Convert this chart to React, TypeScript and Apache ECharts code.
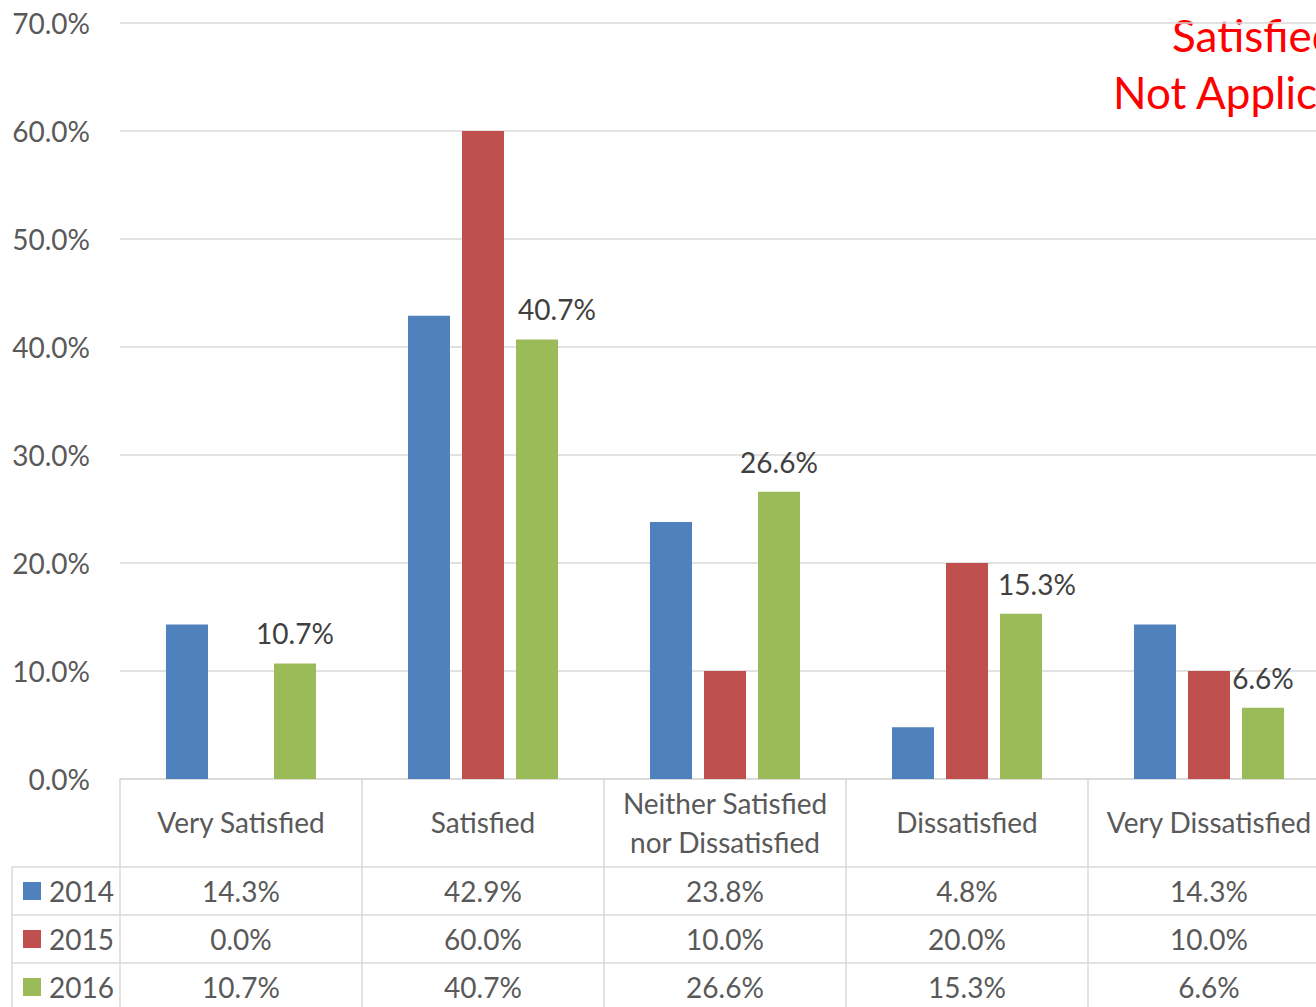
import React, { useEffect, useRef } from "react";
import * as echarts from "echarts";

const categories = [
  "Very Satisfied",
  "Satisfied",
  "Neither Satisfied\nnor Dissatisfied",
  "Dissatisfied",
  "Very Dissatisfied",
];
const years = ["2014", "2015", "2016"];
const values2014 = [14.3, 42.9, 23.8, 4.8, 14.3];
const values2015 = [0.0, 60.0, 10.0, 20.0, 10.0];
const values2016 = [10.7, 40.7, 26.6, 15.3, 6.6];
const yTicks = [0, 10, 20, 30, 40, 50, 60, 70];
const noteLines = ["Satisfied", "Not Applicable"];

const colors = ["#4f81bd", "#c0504d", "#9bbb59"];
const FONT = "Lato";
const TXT = "#595959";
const LINE = "#d9d9d9";

const pct = (v: number) => v.toFixed(1) + "%";

export default function App() {
  const ref = useRef<HTMLDivElement>(null);
  useEffect(() => {
    if (!ref.current) return;
    const chart = echarts.init(ref.current, undefined, { renderer: "svg" });
    const rows = [values2014, values2015, values2016];
    const labelShift = [0, 20, 0, 16, 0];

    const tableAxes = rows.map((row, r) => ({
      type: "category",
      gridIndex: 0,
      position: "bottom",
      offset: 88 + r * 48,
      data: categories,
      axisLine: { show: true, lineStyle: { color: LINE, width: 1.5 } },
      axisTick: { show: true, length: 48, interval: 0, lineStyle: { color: LINE, width: 1.5 } },
      axisLabel: {
        interval: 0,
        margin: 24,
        verticalAlign: "middle",
        fontFamily: FONT,
        fontSize: 28,
        color: TXT,
        formatter: (_v: string, i: number) => pct(row[i]),
      },
      splitLine: { show: false },
    }));

    const graphics: any[] = [];
    [867, 915, 963].forEach((y) =>
      graphics.push({
        type: "line",
        shape: { x1: 12, y1: y, x2: 120, y2: y },
        style: { stroke: LINE, lineWidth: 1.5 },
      })
    );
    graphics.push({
      type: "line",
      shape: { x1: 12, y1: 867, x2: 12, y2: 1010 },
      style: { stroke: LINE, lineWidth: 1.5 },
    });
    years.forEach((yr, i) => {
      const cy = 891 + i * 48;
      graphics.push({
        type: "rect",
        shape: { x: 23, y: cy - 9, width: 18, height: 18 },
        style: { fill: colors[i] },
      });
      graphics.push({
        type: "text",
        x: 49,
        y: cy,
        style: {
          text: yr,
          fontFamily: FONT,
          fontSize: 28,
          fill: TXT,
          verticalAlign: "middle",
          align: "left",
        },
      });
    });
    const noteX = [1172, 1113];
    const noteY = [35, 92];
    noteLines.forEach((t, i) =>
      graphics.push({
        type: "text",
        x: noteX[i],
        y: noteY[i],
        style: {
          text: t,
          fontFamily: FONT,
          fontSize: 44,
          fill: "#ff0000",
          verticalAlign: "middle",
          align: "left",
        },
      })
    );

    chart.setOption({
      animation: false,
      grid: { left: 120, right: 10, top: 23, bottom: 228, containLabel: false },
      xAxis: [
        {
          type: "category",
          data: categories,
          position: "bottom",
          axisLine: { show: true, lineStyle: { color: LINE, width: 1.5 } },
          axisTick: { show: true, length: 88, interval: 0, lineStyle: { color: LINE, width: 1.5 } },
          axisLabel: {
            interval: 0,
            margin: 43,
            verticalAlign: "middle",
            lineHeight: 39,
            fontFamily: FONT,
            fontSize: 28,
            color: TXT,
          },
        },
        ...tableAxes,
      ],
      yAxis: {
        type: "value",
        min: yTicks[0],
        max: yTicks[yTicks.length - 1],
        interval: 10,
        axisLine: { show: false },
        axisTick: { show: false },
        axisLabel: {
          margin: 30,
          fontFamily: FONT,
          fontSize: 28,
          color: TXT,
          formatter: (v: number) => pct(v),
        },
        splitLine: { lineStyle: { color: LINE, width: 1.5 } },
      },
      series: rows.map((row, r) => ({
        type: "bar",
        name: years[r],
        xAxisIndex: 0,
        barWidth: 42,
        barGap: "28.6%",
        itemStyle: { color: colors[r] },
        data:
          r === 2
            ? row.map((v, i) => ({ value: v, label: { offset: [labelShift[i], 0] } }))
            : row,
        label:
          r === 2
            ? {
                show: true,
                position: "top",
                distance: 16,
                fontFamily: FONT,
                fontSize: 28,
                color: "#404040",
                formatter: (p: any) => pct(p.value),
              }
            : { show: false },
      })),
      graphic: graphics,
    });
    return () => chart.dispose();
  }, []);
  return (
    <div
      ref={ref}
      style={{ position: "fixed", left: 0, top: 0, width: 1340, height: 1007, background: "#fff" }}
    />
  );
}
